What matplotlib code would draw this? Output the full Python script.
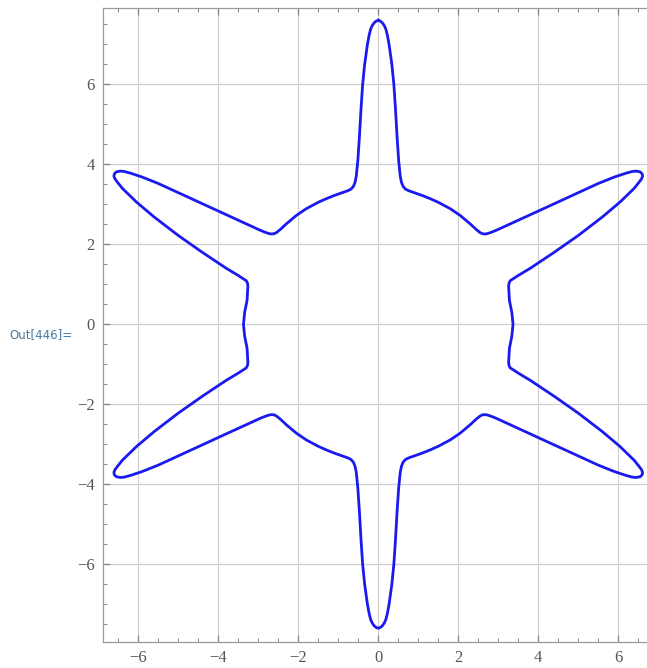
import numpy as np
import matplotlib
matplotlib.use("Agg")
import matplotlib.pyplot as plt
from matplotlib.ticker import MultipleLocator

q1_x = [0.00, 0.05, 0.10, 0.15, 0.19, 0.23, 0.27, 0.34, 0.39, 0.43, 0.47, 0.51, 0.53,
        0.55, 0.58, 0.62, 0.68, 0.76, 0.90, 1.10, 1.30, 1.50, 1.80, 2.05, 2.30, 2.45,
        2.55, 2.62, 2.70, 2.80, 2.95, 3.50, 4.00, 4.50, 5.00, 5.50, 5.90, 6.20, 6.35,
        6.45, 6.55, 6.60, 6.61, 6.58, 6.52, 6.40, 6.05, 5.60, 5.00, 4.40, 3.80, 3.50,
        3.38, 3.30, 3.27, 3.26, 3.28, 3.34, 3.37]
q1_y = [7.60, 7.58, 7.54, 7.47, 7.38, 7.22, 7.00, 6.50, 6.00, 5.40, 4.70, 4.10, 3.90,
        3.70, 3.55, 3.45, 3.38, 3.34, 3.29, 3.22, 3.14, 3.05, 2.89, 2.72, 2.51, 2.37,
        2.29, 2.26, 2.26, 2.29, 2.35, 2.60, 2.83, 3.06, 3.29, 3.52, 3.68, 3.78, 3.82,
        3.83, 3.81, 3.76, 3.70, 3.63, 3.55, 3.40, 3.06, 2.68, 2.22, 1.80, 1.40, 1.22,
        1.14, 1.09, 1.03, 0.95, 0.60, 0.30, 0.00]

x_ticks = [-6, -4, -2, 0, 2, 4, 6]
y_ticks = [-6, -4, -2, 0, 2, 4, 6]
prompt_label = "Out[446]="

qx = np.array(q1_x)
qy = np.array(q1_y)
# The curve is mirror-symmetric about both axes
xs = np.concatenate([qx, qx[::-1][1:], -qx[1:], -qx[::-1][1:]])
ys = np.concatenate([qy, -qy[::-1][1:], -qy[1:], qy[::-1][1:]])

fig = plt.figure(figsize=(6.47, 6.68), dpi=100)
ax = fig.add_axes([103.3 / 647, (668 - 641.7) / 668, (647 - 103.3) / 647, (641.7 - 8.3) / 668])

ax.plot(xs, ys, color="#1a1af0", lw=2.0, solid_joinstyle="round", zorder=3)

ax.set_xlim(-6.875, 6.72)
ax.set_ylim(-7.935, 7.9)

ax.set_xticks(x_ticks)
ax.set_yticks(y_ticks)
ax.set_xticklabels(["\u2212%d" % -v if v < 0 else "%d" % v for v in x_ticks])
ax.set_yticklabels(["\u2212%d" % -v if v < 0 else "%d" % v for v in y_ticks])
ax.xaxis.set_minor_locator(MultipleLocator(0.5))
ax.yaxis.set_minor_locator(MultipleLocator(0.5))

ax.grid(True, which="major", color="#d0d0d0", lw=0.9, zorder=0)
ax.set_axisbelow(True)

ax.tick_params(which="both", direction="in", top=True, right=False, colors="#888888",
               labelcolor="#555555", labelsize=12)
ax.tick_params(which="major", length=5, width=0.9)
ax.tick_params(which="minor", length=3, width=0.7)
ax.tick_params(axis="x", pad=6)
ax.tick_params(axis="y", pad=6)
for lab in ax.get_xticklabels() + ax.get_yticklabels():
    lab.set_family("Liberation Serif")

for s in ["left", "bottom", "top"]:
    ax.spines[s].set_color("#999999")
    ax.spines[s].set_linewidth(0.9)
ax.spines["right"].set_visible(False)

fig.text(9 / 647, 1 - 335 / 668, prompt_label, color="#4a77a0", fontsize=8.5,
         ha="left", va="center", family="DejaVu Sans")

fig.savefig("out.png", dpi=100)
